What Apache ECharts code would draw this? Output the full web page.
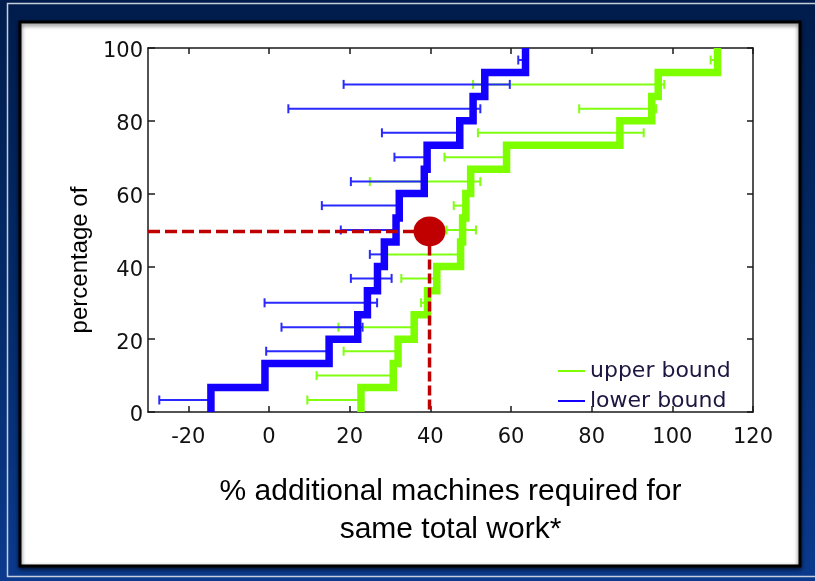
<!DOCTYPE html>
<html><head><meta charset="utf-8">
<script src="https://cdn.jsdelivr.net/npm/echarts@6/dist/echarts.min.js"></script>
<style>html,body{margin:0;padding:0;background:#0a2a6a;}#c{width:815px;height:581px;}</style>
</head><body><div id="c"></div>
<script>
// ---- data ----
const cdfLevels = [0, 6.7, 13.3, 20, 26.7, 33.3, 40, 46.7, 53.3, 60, 66.7, 73.3, 80, 86.7, 93.3, 100];
const barLevels = [3.3, 10, 16.7, 23.3, 30, 36.7, 43.3, 50, 56.7, 63.3, 70, 76.7, 83.3, 90, 96.7];
const lowerSteps = [-14.4, -1, 14.9, 22, 24.4, 26.9, 28.6, 31.5, 32.3, 38.5, 39.2, 47.3, 50.6, 53.5, 63.6];
const upperSteps = [22.8, 30.8, 32, 36, 39.3, 41.6, 47.5, 48, 48.8, 50, 58.9, 87, 94.9, 96.5, 111.2];
const lowerBarLo = [-27.2, null, -0.7, 3.1, -1.1, 20.3, 25, 17.8, 13.1, 20.3, 31.1, 28, 4.8, 18.5, 61.8];
const lowerBarHi = [-14.4, null, 14.9, 23.2, 26.8, 30.4, 28.6, 31.5, 32.3, 38.5, 39.2, 47.3, 52.4, 59.7, 63.6];
const upperBarLo = [9.5, 11.8, 18.5, 17.2, 37.7, 32.8, 28.6, 44, 45.8, 25, 43.5, 51.8, 76.9, 50.6, 109.5];
const upperBarHi = [22.8, 30.8, 32, 36, 39.3, 41.6, 47.5, 51.3, 48.8, 52.4, 58.9, 92.9, 96, 98, 111.2];
const highlight = [39.8, 49.6];
const xTicks = [-20, 0, 20, 40, 60, 80, 100, 120];
const yTicks = [0, 20, 40, 60, 80, 100];
const xMin = -30, xMax = 120, yMin = 0, yMax = 100;
const legendNames = ['upper bound', 'lower bound'];
const xTitle = '% additional machines required for\nsame total work*';
const yTitle = 'percentage of';

const BLUE = '#1400ff', GREEN = '#7dff00', RED = '#c00000';
const BLUE_BAR = '#2a2aff', GREEN_BAR = '#80ff10';

function stairs(steps) {
  const pts = [];
  for (let k = 0; k < steps.length; k++) {
    pts.push([steps[k], cdfLevels[k]]);
    pts.push([steps[k], cdfLevels[k + 1]]);
  }
  return pts;
}
function bars(lo, hi) {
  const out = [];
  for (let i = 0; i < barLevels.length; i++) {
    if (lo[i] == null) continue;
    out.push([barLevels[i], lo[i], hi[i]]);
  }
  return out;
}
function barRenderer(color) {
  return function (params, api) {
    const y = api.value(0), lo = api.value(1), hi = api.value(2);
    const p1 = api.coord([lo, y]), p2 = api.coord([hi, y]);
    const h = 4.5;
    const st = { stroke: color, lineWidth: 2 };
    return {
      type: 'group', children: [
        { type: 'line', shape: { x1: p1[0], y1: p1[1], x2: p2[0], y2: p2[1] }, style: st },
        { type: 'line', shape: { x1: p1[0], y1: p1[1] - h, x2: p1[0], y2: p1[1] + h }, style: st },
        { type: 'line', shape: { x1: p2[0], y1: p2[1] - h, x2: p2[0], y2: p2[1] + h }, style: st }
      ]
    };
  };
}

const tickFont = { fontFamily: 'DejaVu Sans', fontSize: 21, color: '#111111' };
const axisLineStyle = { show: true, onZero: false, lineStyle: { color: '#1a1a1a', width: 1.5 } };
const chart = echarts.init(document.getElementById('c'), null, { renderer: 'canvas' });
chart.setOption({
  animation: false,
  backgroundColor: 'transparent',
  graphic: { elements: [
    { type: 'rect', z: -30, shape: { x: 0, y: 0, width: 815, height: 581 },
      style: { fill: new echarts.graphic.LinearGradient(0, 0, 0, 1, [
        { offset: 0, color: '#001c4c' }, { offset: 0.5, color: '#032a68' }, { offset: 1, color: '#0b3a8e' }]) } },
    { type: 'rect', z: -29, shape: { x: 7.5, y: 3.5, width: 830, height: 573 },
      style: { fill: 'none', stroke: '#c6cedc', lineWidth: 1.5 } },
    { type: 'rect', z: -28, shape: { x: 20, y: 22, width: 780, height: 544 },
      style: { fill: '#ffffff', stroke: '#000000', lineWidth: 3, shadowBlur: 4, shadowOffsetY: 2, shadowColor: 'rgba(0,0,0,0.6)' } },
    { type: 'text', z: 10, x: 80, y: 260, rotation: Math.PI / 2,
      style: { text: yTitle, fontFamily: 'Liberation Sans', fontSize: 24, fill: '#000', align: 'center', verticalAlign: 'middle' } }
  ] },
  grid: { left: 148, top: 48, right: 62, bottom: 169, outerBoundsMode: 'none', show: false },
  legend: {
    data: legendNames, orient: 'vertical', left: 558, top: 360, itemGap: 8, padding: 0,
    icon: 'rect', itemWidth: 27, itemHeight: 2,
    textStyle: { fontFamily: 'DejaVu Sans', fontSize: 22, color: '#1c1640', lineHeight: 22 }
  },
  xAxis: [
    { type: 'value', min: xMin, max: xMax, position: 'bottom',
      axisLine: axisLineStyle,
      axisTick: { show: true, inside: true, length: 6, customValues: xTicks, lineStyle: { color: '#1a1a1a', width: 1.5 } },
      axisLabel: { customValues: xTicks, margin: 15, ...tickFont },
      splitLine: { show: false },
      name: xTitle, nameLocation: 'middle', nameGap: 61,
      nameTextStyle: { fontFamily: 'Liberation Sans', fontSize: 30, lineHeight: 38, color: '#000' } },
    { type: 'value', min: xMin, max: xMax, position: 'top',
      axisLine: axisLineStyle,
      axisTick: { show: true, inside: true, length: 6, customValues: xTicks, lineStyle: { color: '#1a1a1a', width: 1.5 } },
      axisLabel: { show: false }, splitLine: { show: false } }
  ],
  yAxis: [
    { type: 'value', min: yMin, max: yMax, interval: 20, position: 'left',
      axisLine: axisLineStyle,
      axisTick: { show: true, inside: true, length: 7, lineStyle: { color: '#1a1a1a', width: 1.5 } },
      axisLabel: { margin: 5, verticalAlign: 'top', lineHeight: 8, ...tickFont },
      splitLine: { show: false } },
    { type: 'value', min: yMin, max: yMax, interval: 20, position: 'right',
      axisLine: axisLineStyle,
      axisTick: { show: true, inside: true, length: 6, lineStyle: { color: '#1a1a1a', width: 1.5 } },
      axisLabel: { show: false }, splitLine: { show: false } }
  ],
  series: [
    { type: 'custom', name: 'upper bars', z: 2, renderItem: barRenderer(GREEN_BAR),
      encode: { x: [1, 2], y: 0 }, data: bars(upperBarLo, upperBarHi), silent: true },
    { type: 'custom', name: 'lower bars', z: 3, renderItem: barRenderer(BLUE_BAR),
      encode: { x: [1, 2], y: 0 }, data: bars(lowerBarLo, lowerBarHi), silent: true },
    { type: 'line', name: legendNames[0], z: 4, data: stairs(upperSteps), showSymbol: false, symbol: 'none',
      color: GREEN, itemStyle: { color: GREEN },
      lineStyle: { color: GREEN, width: 7.5, join: 'miter', cap: 'butt' } },
    { type: 'line', name: legendNames[1], z: 5, data: stairs(lowerSteps), showSymbol: false, symbol: 'none',
      color: BLUE, itemStyle: { color: BLUE },
      lineStyle: { color: BLUE, width: 7.5, join: 'miter', cap: 'butt' } },
    { type: 'line', name: 'h-guide', z: 6, data: [[xMin, highlight[1]], [highlight[0], highlight[1]]], symbol: 'none',
      lineStyle: { color: RED, width: 3.5, type: [12, 5] } },
    { type: 'line', name: 'v-guide', z: 6, data: [[highlight[0], highlight[1]], [highlight[0], yMin]], symbol: 'none',
      lineStyle: { color: RED, width: 3.5, type: [10, 4] } },
    { type: 'scatter', name: 'highlight', z: 7, data: [highlight], symbol: 'circle', symbolSize: [32, 30],
      itemStyle: { color: RED, opacity: 1 } }
  ]
});
</script></body></html>
